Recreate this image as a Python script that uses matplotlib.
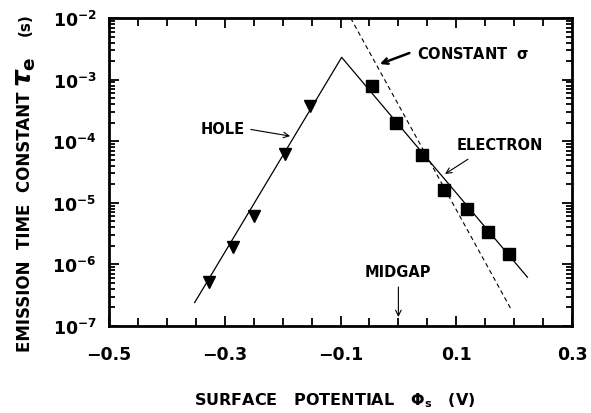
import numpy as np
import matplotlib
matplotlib.use("Agg")
import matplotlib.pyplot as plt
from matplotlib.ticker import MultipleLocator, LogLocator, NullFormatter, FixedLocator, FixedFormatter

plt.rcParams['font.family'] = ['DejaVu Sans']
plt.rcParams['font.weight'] = 'bold'

# Data
hole_phi = [-0.327, -0.285, -0.249, -0.196, -0.153]
hole_tau = [5.2e-7, 1.9e-6, 6.2e-6, 6.2e-5, 3.7e-4]

elec_phi = [-0.046, -0.004, 0.040, 0.079, 0.119, 0.155, 0.191]
elec_tau = [7.8e-4, 1.95e-4, 6.0e-5, 1.6e-5, 8.0e-6, 3.3e-6, 1.48e-6]

fit_phi = [-0.352, -0.098, 0.223]
fit_tau = [2.4e-7, 2.3e-3, 6.2e-7]

sigma_phi = [-0.0825, 0.196]
sigma_tau = [1.0e-2, 1.78e-7]

midgap_phi = 0.0

xtick_vals = [-0.5, -0.3, -0.1, 0.1, 0.3]
xtick_labels = ['\u22120.5', '\u22120.3', '\u22120.1', '0.1', '0.3']

fig = plt.figure(figsize=(5.91, 4.14), dpi=100)
ax = fig.add_axes([109/591, 1-327/414, (572-109)/591, (327-19)/414])

ax.set_yscale('log')
ax.set_xlim(-0.5, 0.3)
ax.set_ylim(1e-7, 1e-2)

ax.plot(fit_phi, fit_tau, color='black', lw=0.9)
ax.plot(sigma_phi, sigma_tau, color='black', lw=0.8, ls=(0, (4, 3)))
ax.plot(hole_phi, hole_tau, ls='none', marker='v', ms=8, color='black')
ax.plot(elec_phi, elec_tau, ls='none', marker='s', ms=8, color='black')

for s in ax.spines.values():
    s.set_linewidth(2.0)

ax.xaxis.set_major_locator(FixedLocator(xtick_vals))
ax.xaxis.set_major_formatter(FixedFormatter(xtick_labels))
ax.xaxis.set_minor_locator(MultipleLocator(0.05))
ax.yaxis.set_major_locator(LogLocator(base=10, numticks=10))
ax.yaxis.set_minor_locator(LogLocator(base=10, subs=np.arange(2, 10), numticks=20))
ax.yaxis.set_minor_formatter(NullFormatter())

ax.tick_params(which='both', direction='in', top=True, right=True, width=1.3)
ax.tick_params(which='major', length=7, labelsize=12.5)
ax.tick_params(axis='x', which='major', pad=14)
ax.tick_params(axis='y', which='major', pad=9)
ax.tick_params(which='minor', length=4)
ax.tick_params(axis='x', which='minor', length=6)
for lab in ax.get_xticklabels() + ax.get_yticklabels():
    lab.set_fontweight('bold')

# Axis labels
fig.text(335/591, 1-401/414, 'SURFACE   POTENTIAL   $\\mathbf{\\Phi_s}$   (V)',
         fontsize=11.5, fontweight='bold', ha='center', va='center')
fig.text(25/591, 1-222/414, 'EMISSION  TIME  CONSTANT', rotation=90,
         fontsize=12, fontweight='bold', ha='center', va='center')
fig.text(25/591, 1-72/414, '$\\tau_{\\mathbf{e}}$', rotation=90,
         fontsize=19, ha='center', va='center')
fig.text(25/591, 1-25/414, '(s)', rotation=90,
         fontsize=11, fontweight='bold', ha='center', va='center')

fs = 10.5
arrow_thin = dict(arrowstyle='->', lw=0.8, color='black', shrinkA=0, shrinkB=0)

ax.text(-0.265, 1.58e-4, 'HOLE', fontsize=fs, fontweight='bold', ha='right', va='center')
ax.annotate('', xy=(-0.187, 1.21e-4), xytext=(-0.255, 1.55e-4), arrowprops=arrow_thin)

ax.text(0.0316, 2.7e-3, 'CONSTANT  $\\mathbf{\\sigma}$', fontsize=fs, fontweight='bold',
        ha='left', va='center')
ax.annotate('', xy=(-0.032, 1.79e-3), xytext=(0.019, 2.7e-3),
            arrowprops=dict(arrowstyle='->', lw=1.8, color='black', shrinkA=0, shrinkB=0))

ax.text(0.1008, 8.8e-5, 'ELECTRON', fontsize=fs, fontweight='bold', ha='left', va='center')
ax.annotate('', xy=(0.0806, 2.94e-5), xytext=(0.1203, 5.1e-5), arrowprops=arrow_thin)

ax.text(midgap_phi, 7.6e-7, 'MIDGAP', fontsize=fs, fontweight='bold', ha='center', va='center')
ax.annotate('', xy=(midgap_phi, 1.4e-7), xytext=(midgap_phi, 4.3e-7), arrowprops=arrow_thin)

fig.savefig('out.png', dpi=100)
